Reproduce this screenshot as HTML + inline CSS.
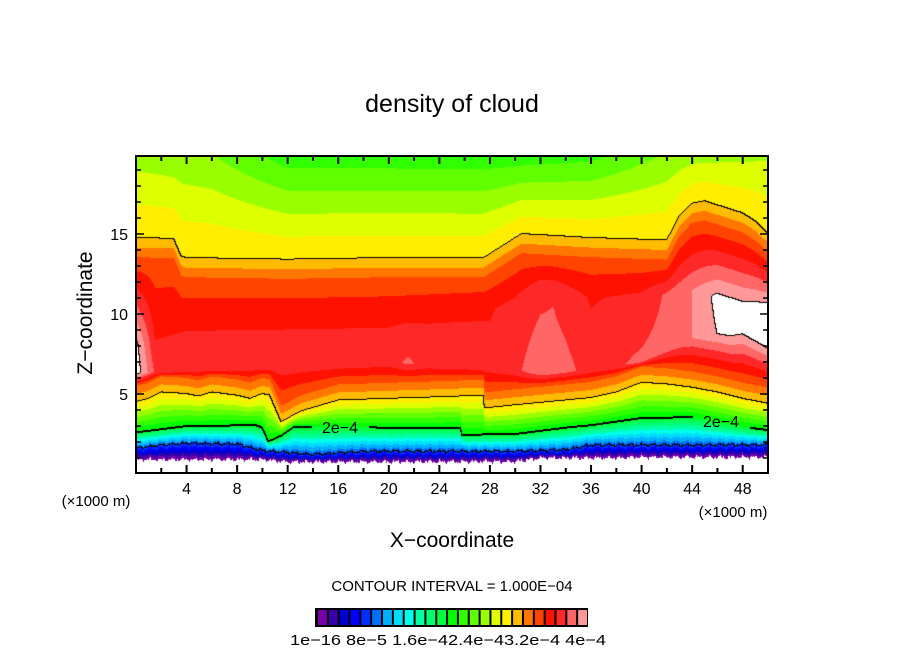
<!DOCTYPE html>
<html><head><meta charset="utf-8">
<style>
html,body{margin:0;padding:0;background:#fff;}
#wrap{position:relative;width:904px;height:654px;overflow:hidden;font-family:"Liberation Sans",sans-serif;}
canvas{position:absolute;left:136px;top:156px;}
svg{position:absolute;left:0;top:0;}
</style></head>
<body>
<div id="wrap">
<canvas id="field" width="632" height="317"></canvas>
<svg id="ov" width="904" height="654">
  <text x="452" y="112" font-size="25" text-anchor="middle">density of cloud</text>
  <text x="0" y="0" font-size="21" text-anchor="middle" transform="translate(92,313) rotate(-90)">Z−coordinate</text>
  <text x="452" y="547" font-size="21" text-anchor="middle">X−coordinate</text>
  <text x="96" y="506" font-size="15" text-anchor="middle">(×1000 m)</text>
  <text x="733" y="517" font-size="15" text-anchor="middle">(×1000 m)</text>
  <text x="452" y="591" font-size="15" text-anchor="middle">CONTOUR INTERVAL = 1.000E−04</text>
  <text x="290" y="645" font-size="15" textLength="316" lengthAdjust="spacingAndGlyphs">1e−16 8e−5 1.6e−42.4e−43.2e−4 4e−4</text>
  <text x="340" y="433" font-size="16" text-anchor="middle">2e−4</text>
  <text x="721" y="427" font-size="16" text-anchor="middle">2e−4</text>
  <g id="axes"></g>
  <g id="cbar"></g>
</svg>
</div>
<script>
// ---- data (x in km/1000, z in km/1000) ----
const colors = ["#7a00a8","#3800a8","#0000d0","#0000ff","#0030ff","#0070ff","#00b0ff","#00ddff","#00ffe8","#00ffa0","#00ff70","#00ff40","#00ff00","#30ff00","#60ff00","#99ff00","#ddff00","#ffee00","#ffbb00","#ff7700","#ff4400","#ff1100","#ff2828","#ff6666","#ff9999"];
const xTicks = [4,8,12,16,20,24,28,32,36,40,44,48];
const zTicks = [5,10,15];
const groundPts = [[0,0.9],[10,0.9],[12,0.75],[30,0.78],[32,1.0],[38,1.0],[40,1.05],[50,1.05]];
const line1Pts = [[0,1.6],[2,1.8],[4,1.9],[8,1.85],[10,1.45],[14,1.2],[18,1.4],[30,1.4],[34,1.5],[36,1.8],[50,1.8]];
const line2Pts = [[0,2.6],[4,3.0],[9.5,3.05],[10,2.9],[10.5,2.05],[11.5,2.4],[12.5,2.95],[20,2.9],[25.7,2.9],[25.8,2.45],[30,2.5],[34,2.9],[36,3.05],[40,3.5],[44,3.55],[48,2.95],[50,2.75]];
const line3Pts = [[0,4.5],[1,4.7],[2,5.1],[4,5.0],[5,4.85],[6,5.1],[8,4.9],[9,4.7],[10,5.0],[10.6,4.9],[11.5,3.25],[13,3.9],[16,4.6],[20,4.7],[24,4.8],[27.5,4.9],[27.6,4.1],[30,4.3],[34,4.6],[36,4.75],[38,5.1],[40,5.7],[42,5.6],[44,5.4],[46,5.1],[48,4.7],[50,4.4]];
const line4Pts = [[0,14.75],[3,14.7],[3.6,13.6],[4,13.5],[12,13.4],[20,13.5],[27.5,13.5],[28.5,14.0],[30.5,15.0],[36,14.75],[42,14.6],[43,16.1],[44,16.9],[45,17.05],[48,16.3],[49,15.8],[50,15.05]];
const coreValPts = [[0,25.8],[1.5,22.9],[4,22.6],[20,22.6],[21.5,23.2],[23,22.6],[28,22.4],[30,22.8],[32,23.6],[34,23.3],[36,22.6],[40,23.2],[43,23.5],[45,24.5],[47,25.5],[50,25.3]];
const coreHiValPts = [[0,25.5],[1.5,22.0],[20,21.9],[28,21.9],[31,22.6],[33,22.9],[36,21.9],[40,22.3],[44,24],[46,25.3],[50,25.3]];
const coreLoPts = [[0,6.3],[4,6.5],[20,7],[30,6.5],[32,6.3],[36,6.5],[40,7],[44,8.5],[48,9],[50,8]];
const coreHiPts = [[0,8.0],[4,9],[20,9.5],[30,10.5],[32,11.5],[36,11],[40,11],[44,11.5],[48,10.5],[50,10.5]];
const topValPts = [[0,15.5],[6,15],[12,13.4],[30,13.3],[36,13.6],[40,14.6],[44,15.5],[50,15.8]];
const lineLevels = [5,12,18,25];

// ---- axes ----
const X0=136,X1=768,Y0=156,Y1=473;
function xpx(x){return X0+x*(X1-X0)/50;}
function zpy(z){return 474-z*16;}
function interp(pts,x){
  if(x<=pts[0][0])return pts[0][1];
  for(let i=1;i<pts.length;i++){if(x<=pts[i][0]){const a=pts[i-1],b=pts[i];return a[1]+(b[1]-a[1])*(x-a[0])/(b[0]-a[0]);}}
  return pts[pts.length-1][1];
}
function hex(c){return [parseInt(c.slice(1,3),16),parseInt(c.slice(3,5),16),parseInt(c.slice(5,7),16)];}
const rgb=colors.map(hex);

const cv=document.getElementById('field');const ctx=cv.getContext('2d');
const W=cv.width,H=cv.height;
const vals=new Float32Array(W*H);
for(let c=0;c<W;c++){
  const x=(c+0.5)*50/W;
  const rip=0.07*Math.sin(x*7.1)+0.05*Math.sin(x*17.3+1)+0.04*Math.sin(x*29.1);
  const g=interp(groundPts,x)+rip, l1=interp(line1Pts,x)+rip*0.8, l2=interp(line2Pts,x), l3=interp(line3Pts,x), l4=interp(line4Pts,x);
  const cvv=interp(coreValPts,x), chv=interp(coreHiValPts,x), tv=interp(topValPts,x);
  let cLo=Math.max(interp(coreLoPts,x),l3+1.1), cHi=Math.min(interp(coreHiPts,x),l4-1.6); if(cHi<cLo)cHi=cLo+0.01;
  const kn=[[g,0],[l1,5],[l2,12],[l3,18],[l3+1,20],[cLo,cvv],[cHi,chv],[l4-1.5,20.5],[l4,18],[20,tv]];
  for(let r=0;r<H;r++){
    const z=(474-(Y0+r+0.5))/16;
    let v;
    if(z<g)v=-1;else v=interp(kn,z);
    vals[r*W+c]=v;
  }
}
const img=ctx.createImageData(W,H);
const line=new Uint8Array(W*H);
function inLabel(px,py){return (px>=312&&px<=368&&py>=417&&py<=437)||(px>=693&&px<=749&&py>=411&&py<=431);}
for(let r=0;r<H;r++)for(let c=0;c<W;c++){
  const v=vals[r*W+c];
  const nb=[[c+1,r],[c,r+1]];
  for(const [cc,rr] of nb){
    if(cc>=W||rr>=H)continue;
    const v2=vals[rr*W+cc];
    if(v<0||v2<0)continue;
    for(const t of lineLevels){
      if((v<t)!==(v2<t)){
        if(!inLabel(c+X0,r+Y0)){line[r*W+c]=1;if(t===12&&r+1<H)line[(r+1)*W+c]=1;}
      }
    }
  }
}
for(let i=0;i<W*H;i++){
  const v=vals[i];let col;
  if(line[i])col=[0,0,0];
  else if(v<0||v>=25)col=[255,255,255];
  else col=rgb[Math.max(0,Math.min(24,Math.floor(v)))];
  img.data[i*4]=col[0];img.data[i*4+1]=col[1];img.data[i*4+2]=col[2];img.data[i*4+3]=255;
}
ctx.putImageData(img,0,0);

const NS="http://www.w3.org/2000/svg";
const axes=document.getElementById('axes');
function mk(tag,attrs,parent){const e=document.createElementNS(NS,tag);for(const k in attrs)e.setAttribute(k,attrs[k]);parent.appendChild(e);return e;}
const frame=mk('rect',{x:X0,y:Y0,width:X1-X0,height:Y1-Y0,fill:'none',stroke:'#000','stroke-width':2},axes);


for(let x=2;x<50;x+=2){
  const L=(x%4===0)?8:5;const px=xpx(x);
  const t1=mk('line',{x1:px,x2:px,y1:Y1,y2:Y1-L,stroke:'#000','stroke-width':2},axes);
  
  
  const t2=mk('line',{x1:px,x2:px,y1:Y0,y2:Y0+L,stroke:'#000','stroke-width':2},axes);
  
  
}
for(let z=1;z<20;z++){
  const L=(z%5===0)?8:5;const py=zpy(z);
  const t1=mk('line',{x1:X0,x2:X0+L,y1:py,y2:py,stroke:'#000','stroke-width':1.5},axes);
  
  
  const t2=mk('line',{x1:X1,x2:X1-L,y1:py,y2:py,stroke:'#000','stroke-width':1.5},axes);
  
  
}
xTicks.forEach(x=>{
  const t=mk('text',{x:xpx(x),y:494,'font-size':16,'text-anchor':'middle'},axes);t.textContent=x;
  
  
});
zTicks.forEach(z=>{
  const t=mk('text',{x:128,y:zpy(z)+6,'font-size':16,'text-anchor':'end'},axes);t.textContent=z;
  
  
});
// colorbar
const cb=document.getElementById('cbar');
const bg=mk('rect',{x:315,y:608,width:273,height:19,fill:'#000'},cb);


const bw=(588-315-2)/colors.length;
colors.forEach((c,i)=>{
  const r=mk('rect',{x:317+i*bw+1,y:610,width:bw-2,height:15,fill:c},cb);
  
  
});
</script>
</body></html>
